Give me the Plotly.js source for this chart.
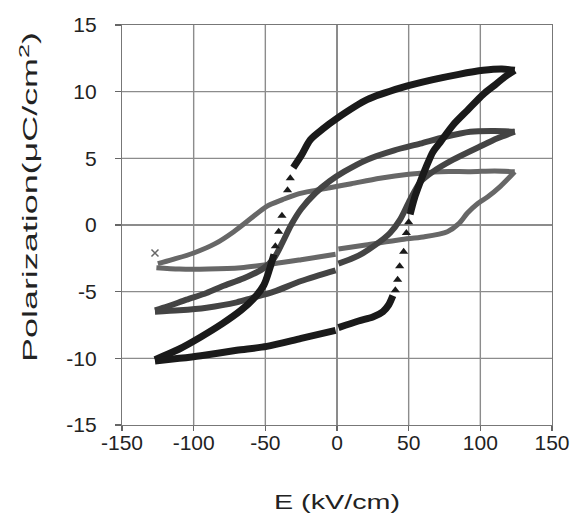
<!DOCTYPE html>
<html>
<head>
<meta charset="utf-8">
<script src="https://cdn.plot.ly/plotly-3.0.1.min.js"></script>
<style>
  html, body { margin: 0; padding: 0; background: #ffffff; }
  #chart { width: 576px; height: 519px; }
</style>
</head>
<body>
<div id="chart"></div>
<script>
// ---- Data (E in kV/cm, P in uC/cm^2) ----
// Large loop (filled triangles)
const bigUpperE = [124, 115, 102, 85, 67, 45, 21, 0, -10, -18.6, -25, -30.5];
const bigUpperP = [11.6, 11.7, 11.6, 11.3, 10.9, 10.3, 9.4, 8.0, 7.2, 6.4, 5.2, 4.3];
const bigUpperTriE = [-32.6, -34.5, -38.4, -40.7, -43];
const bigUpperTriP = [3.5, 2.6, 0.7, -0.5, -1.6];
const bigUpperTailE = [-44, -47, -51, -58, -67, -80, -95, -110, -127];
const bigUpperTailP = [-2.2, -3.3, -4.5, -5.5, -6.4, -7.4, -8.4, -9.3, -10.1];
const bigLowerAE = [-127, -110, -95, -70, -49, -25, -1];
const bigLowerAP = [-10.2, -10.0, -9.8, -9.4, -9.1, -8.5, -7.9];
const bigLowerBE = [1, 15, 25, 32, 36, 39];
const bigLowerBP = [-7.7, -7.2, -6.9, -6.5, -6.0, -5.3];
const bigLowerTriE = [40.7, 42.3, 43.7, 46.5, 48.4, 50];
const bigLowerTriP = [-4.9, -4.1, -3.1, -2.0, -0.6, 0.2];
const bigLowerTailE = [51, 54, 58, 62, 67, 72, 81, 91, 102, 109, 117, 124];
const bigLowerTailP = [0.8, 2.0, 3.2, 4.3, 5.5, 6.2, 7.5, 8.6, 9.8, 10.4, 11.1, 11.6];

// Medium loop (open circles)
const midUpperE = [124, 110, 93, 75, 58, 40, 21, 5, -5, -15, -25, -32, -38, -44, -52, -65, -80, -91, -105, -118, -127];
const midUpperP = [7.0, 7.05, 7.0, 6.6, 6.1, 5.6, 4.9, 4.0, 3.3, 2.4, 1.2, 0.0, -1.3, -2.5, -3.3, -4.0, -4.6, -5.1, -5.6, -6.1, -6.4];
const midLowerAE = [-127, -110, -91, -70, -60, -44, -25, -1];
const midLowerAP = [-6.5, -6.4, -6.2, -5.8, -5.5, -5.0, -4.2, -3.4];
const midLowerBE = [1, 15, 28, 37, 44, 51, 58, 67, 81, 100, 112, 124];
const midLowerBP = [-2.9, -2.3, -1.4, -0.6, 0.4, 1.9, 3.2, 4.0, 4.9, 5.9, 6.5, 7.0];

// Small loop (x markers)
const smallStartE = [-127];
const smallStartP = [-2.1];
const smallUpperE = [124, 110, 93, 72, 50, 30, 10, -5, -15, -28, -38, -49, -60, -72, -85, -100, -115, -125];
const smallUpperP = [4.0, 4.05, 4.0, 4.0, 3.8, 3.5, 3.1, 2.8, 2.6, 2.3, 1.9, 1.4, 0.5, -0.5, -1.4, -2.1, -2.6, -2.9];
const smallLowerAE = [-126, -110, -90, -67, -44, -25, -1];
const smallLowerAP = [-3.2, -3.3, -3.3, -3.2, -2.9, -2.6, -2.2];
const smallLowerBE = [1, 20, 44, 60, 77, 85, 91, 98, 105, 114, 124];
const smallLowerBP = [-1.8, -1.5, -1.1, -0.9, -0.5, 0.1, 0.9, 1.6, 2.1, 2.9, 4.0];

const xTicks = [-150, -100, -50, 0, 50, 100, 150];
const yTicks = [-15, -10, -5, 0, 5, 10, 15];

// ---- Styles ----
const bigColor = '#1a1a1a';
const midColor = '#444444';
const smallColor = '#676767';
const gridColor = '#8c8c8c';

function line(x, y, color, width) {
  return { x: x, y: y, type: 'scatter', mode: 'lines',
           line: { color: color, width: width, shape: 'spline', smoothing: 0.8 },
           hoverinfo: 'skip', showlegend: false };
}
function marks(x, y, color, symbol, size) {
  return { x: x, y: y, type: 'scatter', mode: 'markers',
           marker: { color: color, symbol: symbol, size: size, line: { width: 0 } },
           hoverinfo: 'skip', showlegend: false };
}

// grid lines as plain line traces built from the tick arrays (behind the data)
const xLo = xTicks[0], xHi = xTicks[xTicks.length - 1];
const yLo = yTicks[0], yHi = yTicks[yTicks.length - 1];
const gx = [], gy = [];
xTicks.slice(1, -1).forEach(function (v) { gx.push(v, v, null); gy.push(yLo, yHi, null); });
yTicks.slice(1, -1).forEach(function (v) { gx.push(xLo, xHi, null); gy.push(v, v, null); });
const gridTrace = { x: gx, y: gy, type: 'scatter', mode: 'lines', connectgaps: false,
                    line: { color: gridColor, width: 1.4 }, hoverinfo: 'skip', showlegend: false };

const traces = [
  gridTrace,
  line(smallUpperE, smallUpperP, smallColor, 5),
  line(smallLowerAE, smallLowerAP, smallColor, 5),
  line(smallLowerBE, smallLowerBP, smallColor, 5),
  marks(smallStartE, smallStartP, smallColor, 'x-thin-open', 7),
  line(midUpperE, midUpperP, midColor, 6),
  line(midLowerAE, midLowerAP, midColor, 6),
  line(midLowerBE, midLowerBP, midColor, 6),
  line(bigUpperE, bigUpperP, bigColor, 7),
  marks(bigUpperTriE, bigUpperTriP, bigColor, 'triangle-up', 8),
  line(bigUpperTailE, bigUpperTailP, bigColor, 7),
  line(bigLowerAE, bigLowerAP, bigColor, 7),
  line(bigLowerBE, bigLowerBP, bigColor, 7),
  marks(bigLowerTriE, bigLowerTriP, bigColor, 'triangle-up', 8),
  line(bigLowerTailE, bigLowerTailP, bigColor, 7)
];
traces[4].marker.line = { color: smallColor, width: 1.5 };

const tickFont = { family: 'Liberation Sans, Arial, sans-serif', size: 21, color: '#222222' };
const titleFont = { family: 'Liberation Sans, Arial, sans-serif', size: 21, color: '#222222' };

const layout = {
  width: 576, height: 519,
  margin: { l: 122, r: 24, t: 25, b: 94, pad: 0 },
  paper_bgcolor: '#ffffff', plot_bgcolor: '#ffffff',
  showlegend: false,
  xaxis: {
    range: [-150, 150], tickmode: 'array', tickvals: xTicks, ticktext: xTicks.map(String),
    showgrid: true, gridcolor: gridColor, gridwidth: 1.2, zeroline: false,
    showline: true, linecolor: '#777777', linewidth: 1.2, mirror: true,
    ticks: 'outside', ticklen: 5, tickwidth: 1.2, tickcolor: '#666666', tickfont: tickFont,
    ticklabelstandoff: -6,
    title: { text: 'E (kV/cm)', font: titleFont, standoff: 41 }
  },
  yaxis: {
    range: [-15, 15], tickmode: 'array', tickvals: yTicks, ticktext: yTicks.map(String),
    showgrid: true, gridcolor: gridColor, gridwidth: 1.2, zeroline: false,
    showline: true, linecolor: '#777777', linewidth: 1.2, mirror: true,
    ticks: 'outside', ticklen: 6, tickwidth: 1.2, tickcolor: '#666666', tickfont: tickFont,
    ticklabelstandoff: 14,
    title: { text: 'Polarization(μC/cm<sup>2</sup>)', font: titleFont, standoff: 22 }
  }
};

function stretch(el, targetLen, shiftAlong) {
  if (!el) return;
  const bb = el.getBBox();
  if (!bb.width) return;
  const s = targetLen / bb.width;
  const cx = bb.x + bb.width / 2;
  const cy = bb.y + bb.height / 2;
  const t = el.getAttribute('transform') || '';
  el.setAttribute('transform',
    t + ' translate(' + shiftAlong + ',0) translate(' + cx + ',' + cy + ') scale(' + s + ',1) translate(' + (-cx) + ',' + (-cy) + ')');
}

Plotly.newPlot('chart', traces, layout, { staticPlot: true, displayModeBar: false }).then(function (gd) {
  stretch(gd.querySelector('.g-xtitle text'), 126, 0);
  stretch(gd.querySelector('.g-ytitle text'), 330, 28);
});
</script>
</body>
</html>
